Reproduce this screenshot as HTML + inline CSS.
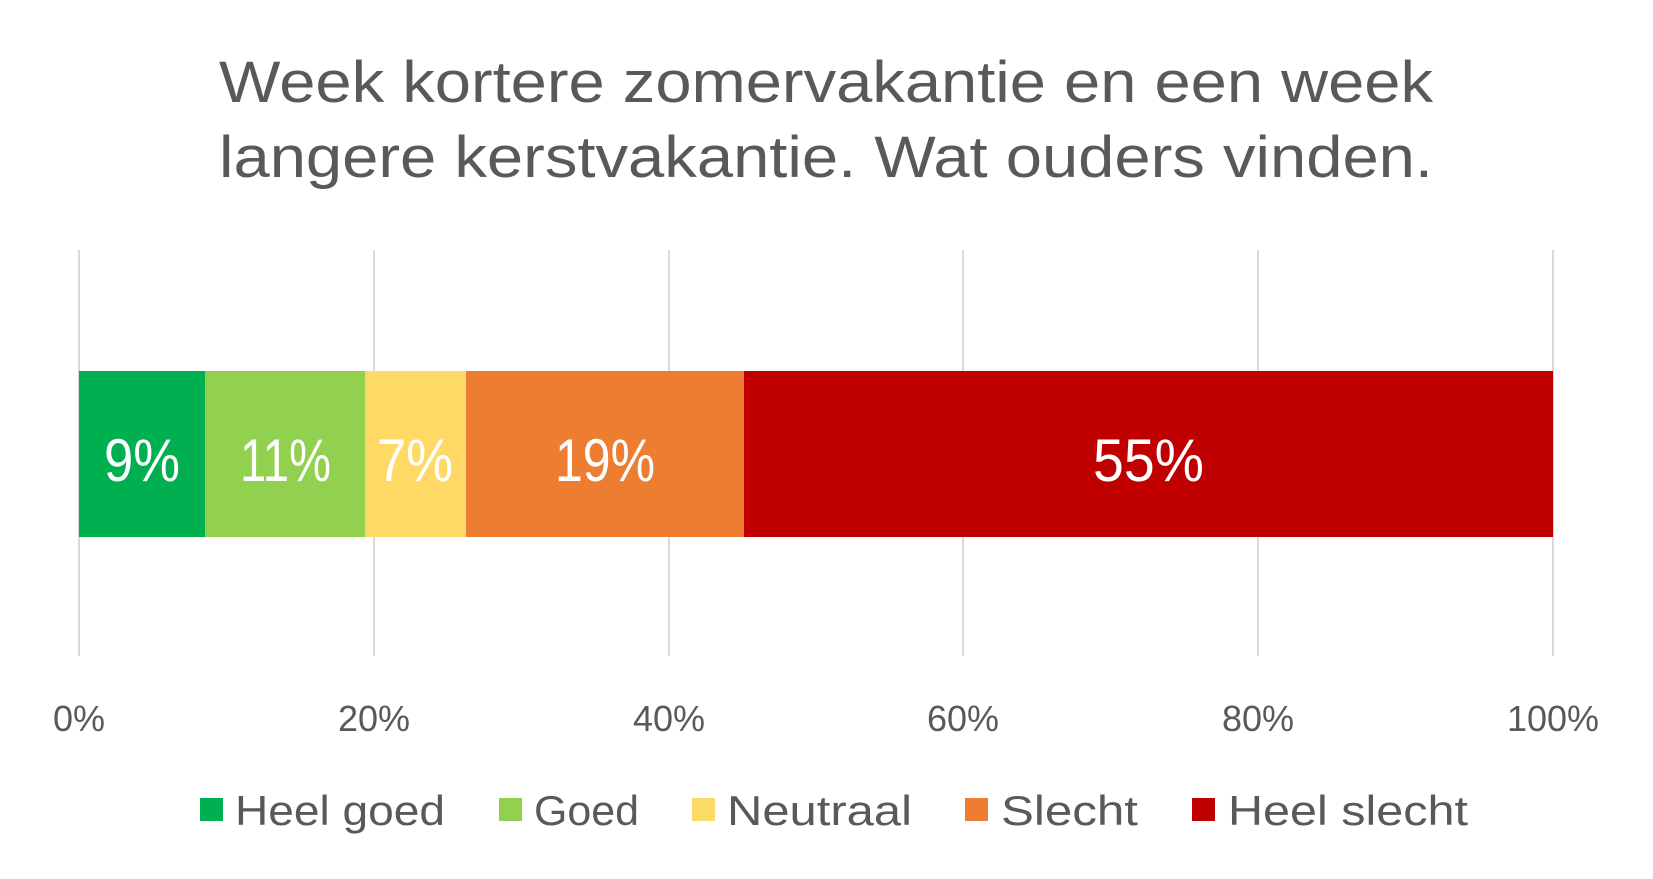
<!DOCTYPE html>
<html><head><meta charset="utf-8"><style>
html,body{margin:0;padding:0;background:#fff;}
svg{display:block;}
text{font-family:"Liberation Sans",sans-serif;}
</style></head><body>
<svg width="1653" height="879" viewBox="0 0 1653 879" xmlns="http://www.w3.org/2000/svg">
<rect width="1653" height="879" fill="#fff"/>
<g fill="#595959" font-size="58">
<text x="219" y="102" textLength="1214" lengthAdjust="spacingAndGlyphs">Week kortere zomervakantie en een week</text>
<text x="219" y="177" textLength="1214" lengthAdjust="spacingAndGlyphs">langere kerstvakantie. Wat ouders vinden.</text>
</g>
<g stroke="#d9d9d9" stroke-width="2">
<line x1="79" y1="250" x2="79" y2="656"/>
<line x1="374" y1="250" x2="374" y2="656"/>
<line x1="669" y1="250" x2="669" y2="656"/>
<line x1="963" y1="250" x2="963" y2="656"/>
<line x1="1258" y1="250" x2="1258" y2="656"/>
<line x1="1553" y1="250" x2="1553" y2="656"/>
</g>
<rect x="79" y="371" width="126" height="166" fill="#00b050"/>
<rect x="205" y="371" width="160" height="166" fill="#92d050"/>
<rect x="365" y="371" width="101" height="166" fill="#ffd966"/>
<rect x="466" y="371" width="278" height="166" fill="#ed7d31"/>
<rect x="744" y="371" width="809" height="166" fill="#c00000"/>
<g fill="#fff" font-size="60">
<text x="104" y="481" textLength="76" lengthAdjust="spacingAndGlyphs">9%</text>
<text x="240" y="481" textLength="91" lengthAdjust="spacingAndGlyphs">11%</text>
<text x="377" y="481" textLength="76" lengthAdjust="spacingAndGlyphs">7%</text>
<text x="555" y="481" textLength="100" lengthAdjust="spacingAndGlyphs">19%</text>
<text x="1093" y="481" textLength="111" lengthAdjust="spacingAndGlyphs">55%</text>
</g>
<g fill="#595959" font-size="36" text-anchor="middle">
<text x="79" y="731">0%</text>
<text x="374" y="731">20%</text>
<text x="669" y="731">40%</text>
<text x="963" y="731">60%</text>
<text x="1258" y="731">80%</text>
<text x="1553" y="731">100%</text>
</g>
<rect x="200" y="798" width="23" height="23" fill="#00b050"/>
<rect x="499" y="798" width="23" height="23" fill="#92d050"/>
<rect x="692" y="798" width="23" height="23" fill="#ffd966"/>
<rect x="965" y="798" width="23" height="23" fill="#ed7d31"/>
<rect x="1192" y="798" width="23" height="23" fill="#c00000"/>
<g fill="#595959" font-size="42">
<text x="235" y="825" textLength="210" lengthAdjust="spacingAndGlyphs">Heel goed</text>
<text x="534" y="825" textLength="105" lengthAdjust="spacingAndGlyphs">Goed</text>
<text x="727" y="825" textLength="185" lengthAdjust="spacingAndGlyphs">Neutraal</text>
<text x="1001" y="825" textLength="137" lengthAdjust="spacingAndGlyphs">Slecht</text>
<text x="1228" y="825" textLength="240" lengthAdjust="spacingAndGlyphs">Heel slecht</text>
</g>
</svg>
</body></html>
